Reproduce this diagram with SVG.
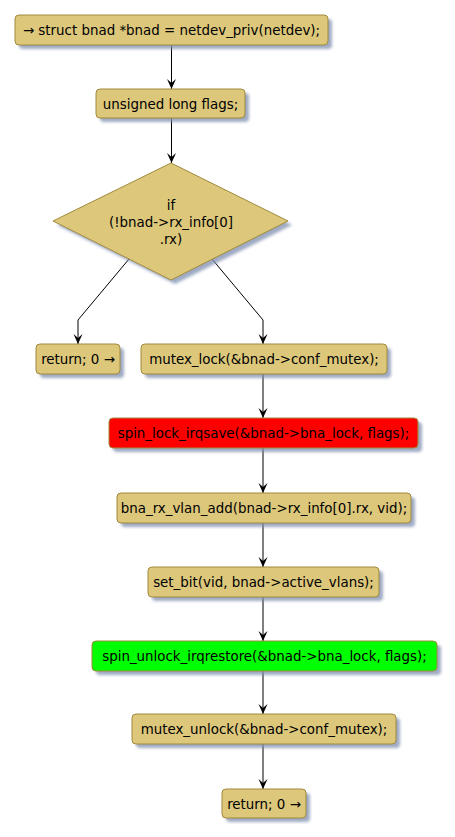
<svg xmlns="http://www.w3.org/2000/svg" width="455" height="837" viewBox="0 0 455 837">
<defs>
<filter id="sh" x="-20%" y="-20%" width="150%" height="160%">
<feGaussianBlur stdDeviation="1.5"/>
</filter>
<marker id="ah" viewBox="0 0 10 10" refX="10" refY="5" markerWidth="10" markerHeight="10" markerUnits="userSpaceOnUse" orient="auto">
<polygon points="0,0.5 4,5 0,9.5 10,5" fill="#000"/>
</marker>
<style>
.box{fill:#DCC77B;stroke:#A08A3C;stroke-width:1}
.shd{fill:#7F8FB0;opacity:0.75;filter:url(#sh)}
.t{font-family:"DejaVu Sans",sans-serif;font-size:13.4px;fill:#000;text-anchor:middle}
.c{stroke:#000;stroke-width:1;fill:none}
</style>
</defs>
<rect width="455" height="837" fill="#fff"/>
<g id="connectors">
<path class="c" d="M171.5,45 V89" marker-end="url(#ah)"/>
<path class="c" d="M171.5,118 V163" marker-end="url(#ah)"/>
<path class="c" d="M129,259 L78,320 V344" marker-end="url(#ah)"/>
<path class="c" d="M212,259 L263,320 V344" marker-end="url(#ah)"/>
<path class="c" d="M263,374 V418" marker-end="url(#ah)"/>
<path class="c" d="M263,448 V493" marker-end="url(#ah)"/>
<path class="c" d="M263,523 V567" marker-end="url(#ah)"/>
<path class="c" d="M263,597 V641" marker-end="url(#ah)"/>
<path class="c" d="M263,671 V714" marker-end="url(#ah)"/>
<path class="c" d="M263,744 V789" marker-end="url(#ah)"/>
</g>
<g id="n1">
<rect class="shd" x="19" y="19" width="313" height="30" rx="4"/>
<rect class="box" x="15" y="15" width="313" height="30" rx="4"/>
<text class="t" x="171.5" y="35">→ struct bnad *bnad = netdev_priv(netdev);</text>
</g>
<g id="n2">
<rect class="shd" x="100" y="93" width="149" height="29" rx="4"/>
<rect class="box" x="96" y="89" width="149" height="29" rx="4"/>
<text class="t" x="170.5" y="108.5">unsigned long flags;</text>
</g>
<g id="n3">
<polygon class="shd" points="175,167 292,225 175,284 57,225"/>
<polygon class="box" points="171,163 288,221 171,280 53,221"/>
<text class="t" x="171" y="210">if</text>
<text class="t" x="171" y="227">(!bnad-&gt;rx_info[0]</text>
<text class="t" x="171" y="244">.rx)</text>
</g>
<g id="n4">
<rect class="shd" x="40" y="348" width="84" height="30" rx="4"/>
<rect class="box" x="36" y="344" width="84" height="30" rx="4"/>
<text class="t" x="78" y="364">return; 0 →</text>
</g>
<g id="n5">
<rect class="shd" x="145" y="348" width="246" height="30" rx="4"/>
<rect class="box" x="141" y="344" width="246" height="30" rx="4"/>
<text class="t" x="264" y="364">mutex_lock(&amp;bnad-&gt;conf_mutex);</text>
</g>
<g id="n6">
<rect class="shd" x="113" y="422" width="309" height="30" rx="4"/>
<rect class="box" x="109" y="418" width="309" height="30" rx="4" style="fill:#FF0000"/>
<text class="t" x="263.5" y="438">spin_lock_irqsave(&amp;bnad-&gt;bna_lock, flags);</text>
</g>
<g id="n7">
<rect class="shd" x="121" y="497" width="294" height="30" rx="4"/>
<rect class="box" x="117" y="493" width="294" height="30" rx="4"/>
<text class="t" x="264" y="513">bna_rx_vlan_add(bnad-&gt;rx_info[0].rx, vid);</text>
</g>
<g id="n8">
<rect class="shd" x="152" y="571" width="231" height="30" rx="4"/>
<rect class="box" x="148" y="567" width="231" height="30" rx="4"/>
<text class="t" x="263.5" y="587">set_bit(vid, bnad-&gt;active_vlans);</text>
</g>
<g id="n9">
<rect class="shd" x="96" y="645" width="345" height="30" rx="4"/>
<rect class="box" x="92" y="641" width="345" height="30" rx="4" style="fill:#00FF00"/>
<text class="t" x="264.5" y="661">spin_unlock_irqrestore(&amp;bnad-&gt;bna_lock, flags);</text>
</g>
<g id="n10">
<rect class="shd" x="136" y="718" width="264" height="30" rx="4"/>
<rect class="box" x="132" y="714" width="264" height="30" rx="4"/>
<text class="t" x="264" y="734">mutex_unlock(&amp;bnad-&gt;conf_mutex);</text>
</g>
<g id="n11">
<rect class="shd" x="226" y="793" width="84" height="29" rx="4"/>
<rect class="box" x="222" y="789" width="84" height="29" rx="4"/>
<text class="t" x="264" y="808.5">return; 0 →</text>
</g>
</svg>
